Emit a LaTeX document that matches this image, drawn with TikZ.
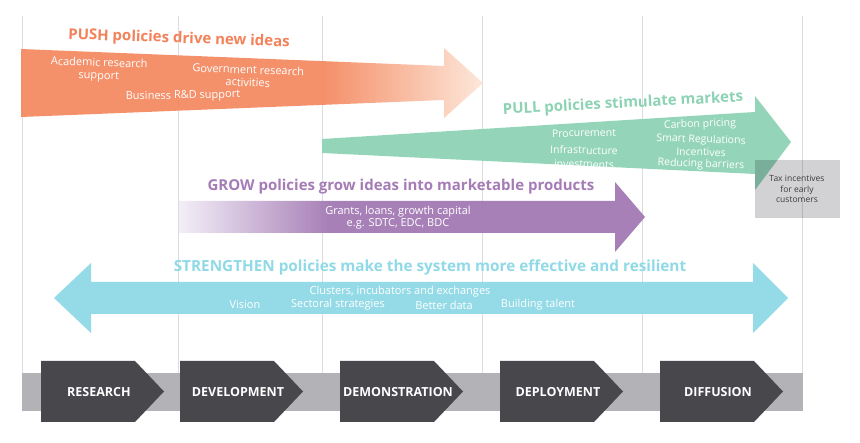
\documentclass[tikz,border=0pt]{standalone}
\usepackage{fontspec}
\setmainfont{Open Sans}
\usetikzlibrary{calc}
\definecolor{pushc}{RGB}{244,137,96}
\definecolor{pushl}{RGB}{253,230,216}
\definecolor{pusht}{RGB}{243,130,90}
\definecolor{pullc}{RGB}{143,211,183}
\definecolor{pullt}{RGB}{140,210,180}
\definecolor{growc}{RGB}{163,122,180}
\definecolor{growl}{RGB}{243,238,247}
\definecolor{growt}{RGB}{165,124,182}
\definecolor{strc}{RGB}{143,218,230}
\definecolor{chev}{RGB}{72,71,76}
\definecolor{bandc}{RGB}{179,178,182}
\definecolor{vline}{RGB}{220,220,222}
\definecolor{taxc}{RGB}{210,210,212}
\definecolor{taxt}{RGB}{60,60,62}
\pgfdeclarehorizontalshading{pushshade}{100bp}{color(0bp)=(pushc); color(25bp)=(pushc); color(58bp)=(pushc); color(75bp)=(pushl); color(100bp)=(pushl)}
\pgfdeclarehorizontalshading{growshade}{100bp}{color(0bp)=(growl); color(25bp)=(growl); color(41bp)=(growc); color(75bp)=(growc); color(100bp)=(growc)}
\begin{document}
\begin{tikzpicture}[x=1pt,y=-1pt,
  gridline/.style={draw=vline,line width=0.8pt},
  titletext/.style={inner sep=0pt,font=\fontsize{15}{18}\selectfont\bfseries},
  intext/.style={inner sep=0pt,align=center,text=white,font=\fontsize{11}{12.8}\selectfont},
  pulltext/.style={inner sep=0pt,text=white,font=\fontsize{10.5}{12}\selectfont},
  stagebox/.style={fill=chev},
  stagetext/.style={inner sep=0pt,text=white,font=\fontsize{12.5}{14}\selectfont\bfseries},
  taxtext/.style={inner sep=0pt,align=center,text=taxt,font=\fontsize{8.5}{10.5}\selectfont}]
\useasboundingbox (0,0) rectangle (860,443);
\fill[white] (0,0) rectangle (860,443);
% grid lines
\foreach \x in {22,178,322,482,642,802} \draw[gridline] (\x,16) -- (\x,373);
% PUSH
\shade[shading=pushshade,opacity=0.93] (21,49) -- (444,66) -- (444,48) -- (483,83) -- (444,118) -- (444,100) -- (21,117) -- cycle;
\node[titletext,text=pusht,rotate=-2] (pusht) at (179,39) {PUSH policies drive new ideas};
\node[intext,rotate=-2] (acad) at (99,70) {Academic research\\support};
\node[intext,rotate=-2] (gov) at (248,76) {Government research\\activities};
\node[intext,rotate=1] (bus) at (183,96) {Business R\&D support};
% PULL
\fill[pullc,opacity=0.95] (322,139) -- (755,112) -- (755,96) -- (791,142) -- (755,190) -- (755,174) -- (322,153) -- cycle;
\node[titletext,text=pullt,rotate=3] (pullt) at (623,104) {PULL policies stimulate markets};
\node[pulltext,rotate=1] (proc) at (584,133) {Procurement};
\node[pulltext,rotate=-1.5] (infra) at (584,150) {Infrastructure};
\node[pulltext,rotate=-1.5] (inv) at (584,164) {investments};
\node[pulltext,rotate=2] (carb) at (700,124.5) {Carbon pricing};
\node[pulltext,rotate=-2] (smart) at (701,140) {Smart Regulations};
\node[pulltext,rotate=-1.5] (incent) at (701,152) {Incentives};
\node[pulltext,rotate=-2] (reduc) at (701,164.5) {Reducing barriers};
% tax box
\begin{scope}[blend mode=multiply]
\fill[taxc] (755,160) rectangle (840,218);
\end{scope}
\node[taxtext] (tax) at (797,189) {Tax incentives\\for early\\customers};
% GROW
\shade[shading=growshade,opacity=0.95] (179,201) -- (615,201) -- (615,182) -- (645,217) -- (615,252) -- (615,233) -- (179,233) -- cycle;
\node[titletext,text=growt] (growt) at (401,187) {GROW policies grow ideas into marketable products};
\node[intext,font=\fontsize{11}{11.7}\selectfont] (grants) at (398,217.5) {Grants, loans, growth capital\\e.g. SDTC, EDC, BDC};
% STRENGTHEN
\fill[strc,opacity=0.95] (54,298) -- (91,263) -- (91,282) -- (753,282) -- (753,263) -- (788,298) -- (753,333) -- (753,314) -- (91,314) -- (91,333) -- cycle;
\node[titletext,text=strc,font=\fontsize{15.3}{18}\selectfont\bfseries] (strt) at (430,267) {STRENGTHEN policies make the system more effective and resilient};
\node[intext] (clus) at (400,292) {Clusters, incubators and exchanges};
\node[intext] (vis) at (245,305) {Vision};
\node[intext] (sect) at (338,305) {Sectoral strategies};
\node[intext] (data) at (444,305) {Better data};
\node[intext] (talent) at (538,305) {Building talent};
% stages
\fill[bandc] (22,373) rectangle (803,411);
\foreach \L/\name/\lab in {41/res/RESEARCH,180/dev/DEVELOPMENT,340/dem/DEMONSTRATION,500/dep/DEPLOYMENT,660/dif/DIFFUSION}{
  \fill[stagebox] (\L,361) -- (\L+94,361) -- (\L+123,391.5) -- (\L+94,422) -- (\L,422) -- cycle;
  \node[stagetext] (\name) at (\L+58,392) {\lab};
}
\end{tikzpicture}
\end{document}
